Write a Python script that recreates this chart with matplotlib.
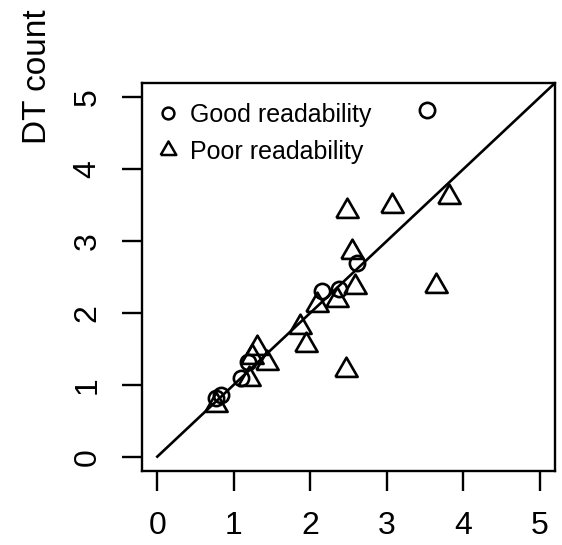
import matplotlib
matplotlib.use("Agg")
import matplotlib.pyplot as plt
import numpy as np
from matplotlib.lines import Line2D

plt.rcParams['font.family'] = ['Liberation Sans', 'DejaVu Sans']

good_x = [3.53, 2.61, 2.16, 2.37, 1.10, 1.18, 0.77, 0.83]
good_y = [4.82, 2.69, 2.30, 2.33, 1.10, 1.32, 0.81, 0.86]

poor_x = [3.81, 3.07, 2.48, 2.55, 2.59, 3.65, 2.35, 2.09, 1.86, 1.95, 2.47, 1.31, 1.24, 1.44, 1.20, 0.77]
poor_y = [3.61, 3.49, 3.42, 2.85, 2.36, 2.37, 2.18, 2.11, 1.81, 1.56, 1.21, 1.51, 1.39, 1.30, 1.08, 0.72]

ticks = [0, 1, 2, 3, 4, 5]
line_xy = [0, 6]
labels = ["Good readability", "Poor readability"]
ylabel = "DT count"

tri = [(-1, -0.577), (1, -0.577), (0, 1.155), (-1, -0.577)]

fig = plt.figure(figsize=(5.62, 5.45), dpi=100)
ax = fig.add_axes([142/562, 1-471/545, (555-142)/562, (471-83)/545])

ax.plot(line_xy, line_xy, color='black', lw=1.9, zorder=1)
ax.plot(good_x, good_y, linestyle='none', marker='o', markersize=11, mfc='none',
        mec='black', mew=1.9, zorder=2)
ax.plot(poor_x, poor_y, linestyle='none', marker=tri, markersize=18.5, mfc='none',
        mec='black', mew=1.9, zorder=2)

ax.set_xlim(-0.2, 5.2)
ax.set_ylim(-0.2, 5.2)
ax.set_xticks(ticks)
ax.set_yticks(ticks)
ax.set_xticklabels([str(t) for t in ticks])
ax.set_yticklabels([str(t) for t in ticks], rotation=90, va='center')
ax.tick_params(direction='out', length=14.5, width=1.7, labelsize=23, pad=14)
for s in ax.spines.values():
    s.set_linewidth(1.7)

handles = [
    Line2D([], [], linestyle='none', marker='o', markersize=8.5, mfc='none', mec='black', mew=1.8),
    Line2D([], [], linestyle='none', marker=tri, markersize=13, mfc='none', mec='black', mew=1.8),
]
ax.legend(handles, labels, loc='upper left', bbox_to_anchor=(0.027, 0.962),
          frameon=False, fontsize=18,
          handlelength=0.8, handletextpad=0.48, labelspacing=0.52,
          borderaxespad=0.0, borderpad=0.2)

fig.text(37/562, 1-77/545, ylabel, rotation=90, ha='center', va='center', fontsize=24)

fig.savefig("out.png", dpi=100)
